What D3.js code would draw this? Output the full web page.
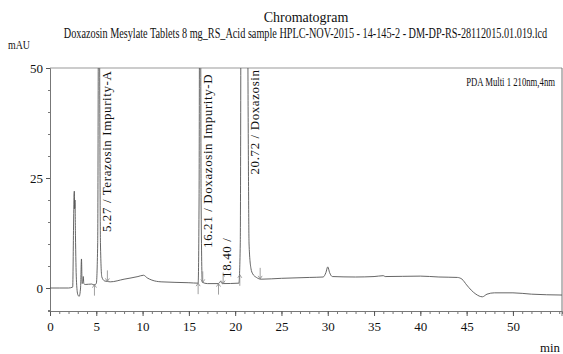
<!DOCTYPE html>
<html><head><meta charset="utf-8">
<script src="https://cdn.jsdelivr.net/npm/d3@7"></script>
<style>body{margin:0;background:#fff}svg{display:block}</style>
</head><body><svg id="c" width="563" height="354"></svg>
<script>
// ---- data ----
const times =   [0,1,2,2.45,2.55,2.6,2.63,2.66,2.7,2.75,2.85,3.0,3.15,3.3,3.4,3.47,3.55,3.6,3.65,3.8,4.5,4.75,5.0,5.15,5.22,5.27,5.35,5.45,5.6,5.9,6.2,6.5,8,9.5,10.1,10.5,11,12,15,16.0,16.1,16.21,16.32,16.45,17,18.2,18.4,18.6,20.4,20.55,20.72,21.2,21.4,21.5,21.7,21.9,22.3,22.8,25,28,29.5,29.8,30.0,30.2,30.5,33,35,36,36.2,40,42,44,44.5,45,45.5,46,46.7,47.2,48,50,52,55.3];
const signal =  [0,0,0,0.2,15,21.5,22,18,20,12,2,-1.5,-1.9,0,6.6,1,1.5,2.6,1,0.8,0.9,0.7,1.0,10,60,120,60,10,2.5,1.6,1.5,1.4,2,2.6,2.9,2.3,1.8,1.4,1.2,1.1,20,120,20,1.3,1.0,1.0,1.5,1.0,1.1,10,150,150,40,10,4.5,3.2,2.4,2.0,2.2,2.4,2.5,3.5,4.8,3.5,2.6,2.5,2.6,2.8,2.6,2.7,2.5,2.4,2.0,0.7,-0.5,-1.4,-2.0,-1.4,-1.1,-1.1,-1.4,-1.6];
const peakTimes  = [5.27, 16.21, 18.40, 20.72];
const peakLabels = ["5.27 / Terazosin Impurity-A","16.21 / Doxazosin Impurity-D","18.40 /","20.72 / Doxazosin"];
const labelLevel = [12.7, 9.1, 2.3, 25.8];   // mAU where each label starts
const markerTimes = [4.8, 6.2, 16.0, 16.5, 18.2, 18.7, 20.5, 22.7];
const markerKind  = ["s","e","s","e","s","e","s","e"];
const xTicks = [0,5,10,15,20,25,30,35,40,45,50];
const yTicks = [0,25,50];
const title = "Chromatogram";
const subtitle = "Doxazosin Mesylate Tablets 8 mg_RS_Acid sample HPLC-NOV-2015 - 14-145-2 - DM-DP-RS-28112015.01.019.lcd";
const channel = "PDA Multi 1 210nm,4nm";

// ---- layout ----
const FONT='"Liberation Serif","DejaVu Serif",serif';
const L=50, R=562, T=68, B=311;
const svg=d3.select("#c");
const x=d3.scaleLinear().domain([0,55.3]).range([L,R]);
const y=d3.scaleLinear().domain([0,50]).range([288,T]);
const yBottom=y.invert(B);

// condensed text: natural font size, squeezed horizontally to a target width
function fitText(str, xPos, yPos, anchor, width, size){
  const g=svg.append("g");
  const t=g.append("text").attr("text-anchor",anchor)
    .style("font-family",FONT).style("font-size",size+"px").attr("fill","#111").text(str);
  const w=t.node().getComputedTextLength();
  const s=Math.min(1,width/w);
  g.attr("transform",`translate(${xPos},${yPos}) scale(${s},1)`);
  return t;
}
fitText(title,306,22,"middle",97,14);
fitText(subtitle,305.5,38,"middle",484,14);
fitText("mAU",8,49,"start",22,13);
fitText("min",540,352,"start",20,13);
fitText(channel,555,86,"end",89,13);

// frame
svg.append("line").attr("x1",L).attr("x2",R).attr("y1",T).attr("y2",T).attr("stroke","#999").attr("stroke-width",1);
svg.append("line").attr("x1",R).attr("x2",R).attr("y1",T).attr("y2",B+5).attr("stroke","#777").attr("stroke-width",1);

// x axis
const xa=svg.append("g").attr("transform",`translate(0,${B})`)
  .call(d3.axisBottom(x).tickValues(d3.range(0,56,1)).tickSize(3).tickFormat(""));
xa.select(".domain").attr("stroke","#777");
xa.selectAll(".tick line").attr("stroke","#777");
const xb=svg.append("g").attr("transform",`translate(0,${B})`)
  .call(d3.axisBottom(x).tickValues(xTicks).tickSize(5).tickPadding(6).tickFormat(d3.format("d")));
xb.select(".domain").remove();
xb.selectAll(".tick line").attr("stroke","#555");
xb.selectAll(".tick text").style("font-size","13px").style("font-family",FONT).attr("fill","#111");

// y axis
const ya=svg.append("g").attr("transform",`translate(${L},0)`)
  .call(d3.axisLeft(d3.scaleLinear().domain([yBottom,50]).range([B,T])).tickValues(d3.range(-5,51,5)).tickSize(2).tickFormat(""));
ya.select(".domain").attr("stroke","#777");
ya.selectAll(".tick line").attr("stroke","#777");
const yb=svg.append("g").attr("transform",`translate(${L},0)`)
  .call(d3.axisLeft(y).tickValues(yTicks).tickSize(4).tickPadding(3).tickFormat(d3.format("d")));
yb.select(".domain").remove();
yb.selectAll(".tick line").attr("stroke","#555");
yb.selectAll(".tick text").style("font-size","13px").style("font-family",FONT).attr("fill","#111");

// clip & trace
svg.append("clipPath").attr("id","clip").append("rect").attr("x",L).attr("y",T).attr("width",R-L).attr("height",B-T);
const pts=times.map((t,i)=>[t,signal[i]]);
svg.append("path").datum(pts).attr("clip-path","url(#clip)")
  .attr("d",d3.line().x(d=>x(d[0])).y(d=>y(d[1])).curve(d3.curveMonotoneX))
  .attr("fill","none").attr("stroke","#555").attr("stroke-width",0.9);

// baseline markers
const interp=t=>{let i=d3.bisectRight(times,t)-1;i=Math.max(0,Math.min(i,times.length-2));const f=(t-times[i])/(times[i+1]-times[i]);return signal[i]+f*(signal[i+1]-signal[i]);};
markerTimes.forEach((t,i)=>{
  const px=x(t), py=y(Math.min(interp(t),3));
  const dir = markerKind[i]==="s"?1:-1;
  const g=svg.append("g").attr("stroke","#888").attr("fill","none").attr("stroke-width",0.8);
  g.append("line").attr("x1",px).attr("x2",px).attr("y1",py).attr("y2",py+dir*11);
  g.append("path").attr("d",`M${px-2},${py+dir*3}L${px},${py}L${px+2},${py+dir*3}`);
});

// peak labels: placed just right of where the peak's trailing edge leaves the top of the plot
function rightEdge(t){
  let i=d3.bisectLeft(times,t);
  while(i<times.length-1 && signal[i+1]>50) i++;
  if(signal[i]<=50) return t;
  const f=(signal[i]-50)/(signal[i]-signal[i+1]);
  return times[i]+f*(times[i+1]-times[i]);
}
peakTimes.forEach((t,i)=>{
  const px=x(rightEdge(t))+11, py=y(labelLevel[i]);
  svg.append("text").attr("transform",`translate(${px},${py}) rotate(-90)`)
    .style("font-family",FONT).style("font-size","13px").style("letter-spacing","0.6px").attr("fill","#111").text(peakLabels[i]);
});
</script></body></html>
